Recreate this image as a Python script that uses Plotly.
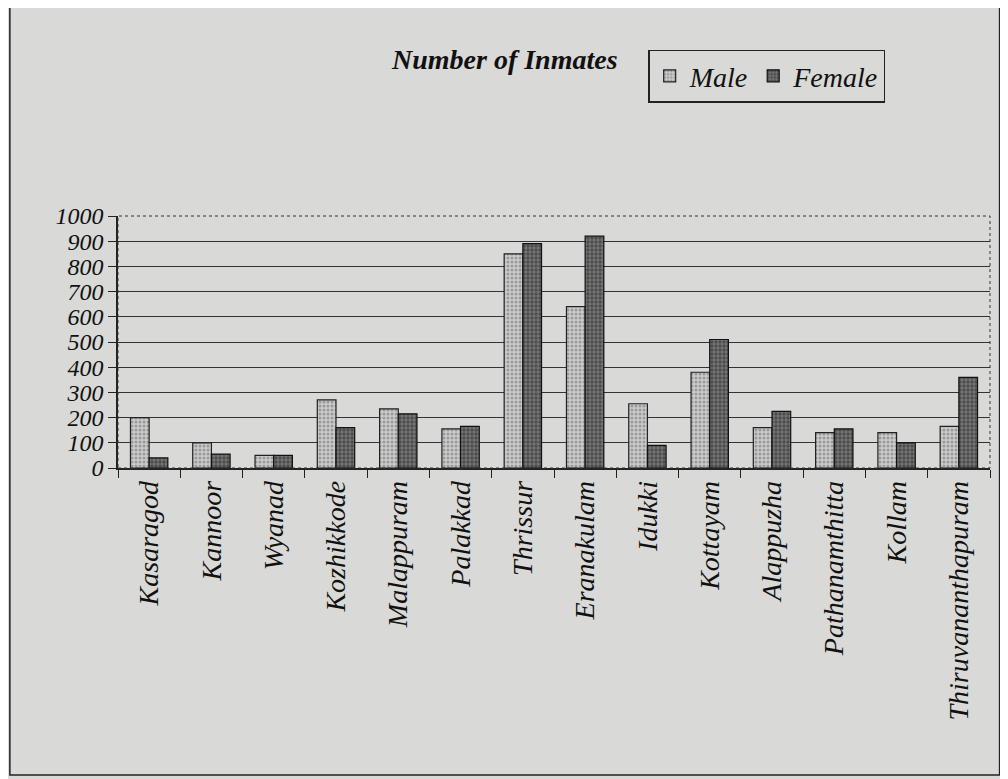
import plotly.graph_objects as go

districts = ["Kasaragod", "Kannoor", "Wyanad", "Kozhikkode", "Malappuram", "Palakkad",
             "Thrissur", "Eranakulam", "Idukki", "Kottayam", "Alappuzha",
             "Pathanamthitta", "Kollam", "Thiruvananthapuram"]
male = [200, 100, 50, 270, 235, 155, 850, 640, 255, 380, 160, 140, 140, 165]
female = [40, 55, 50, 160, 215, 165, 890, 920, 90, 510, 225, 155, 100, 360]
yticks = [0, 100, 200, 300, 400, 500, 600, 700, 800, 900, 1000]

paper = "#d9d9d7"
serif = "Liberation Serif, Times New Roman, serif"

fig = go.Figure()
fig.add_trace(go.Bar(
    name="Male", x=districts, y=male,
    marker=dict(color="#c4c4c4", line=dict(color="#222", width=1.2),
                pattern=dict(shape=".", fgcolor="#666", bgcolor="#cccccc", size=4, solidity=0.45))))
fig.add_trace(go.Bar(
    name="Female", x=districts, y=female,
    marker=dict(color="#444", line=dict(color="#111", width=1.2),
                pattern=dict(shape=".", fgcolor="#222", bgcolor="#777", size=4, solidity=0.55))))

fig.update_layout(
    width=1008, height=779,
    paper_bgcolor=paper, plot_bgcolor=paper,
    margin=dict(l=110, r=26, t=208, b=319),
    barmode="group", bargap=0.4, bargroupgap=0,
    font=dict(family=serif, color="#111"),
    showlegend=True,
    legend=dict(orientation="h", x=0.608, y=1.555, xanchor="left", yanchor="middle",
                font=dict(size=28, family=serif, style="italic"),
                bordercolor="#222", borderwidth=1.5, bgcolor="rgba(0,0,0,0)",
                itemwidth=30, traceorder="normal"),
    annotations=[dict(text="<b><i>Number of Inmates</i></b>", x=0.443, xref="paper", y=1.62,
                      yref="paper", yanchor="middle", showarrow=False,
                      font=dict(size=28, family=serif))],
    shapes=[
        dict(type="rect", xref="paper", yref="paper", x0=-0.124, x1=1.011, y0=-1.218, y1=1.85,
             line=dict(color="#222", width=1.5)),
        dict(type="rect", xref="paper", yref="paper", x0=0, x1=1, y0=0, y1=1,
             line=dict(color="#333", width=1, dash="dot")),
    ],
)

fig.update_xaxes(
    type="category", tickangle=-90, tickson="boundaries", ticks="outside", ticklen=8,
    tickcolor="#222", showline=True, linecolor="#222", linewidth=1.5,
    tickfont=dict(size=28, family=serif, style="italic"), showgrid=False)
fig.update_yaxes(
    range=[0, 1000], tickvals=yticks, ticks="outside", ticklen=8, tickcolor="#222",
    showline=True, linecolor="#222", linewidth=1.5, showgrid=True, gridcolor="#333",
    gridwidth=1.2, zeroline=False, tickfont=dict(size=24, family=serif, style="italic"))

fig.write_html("out.html")
